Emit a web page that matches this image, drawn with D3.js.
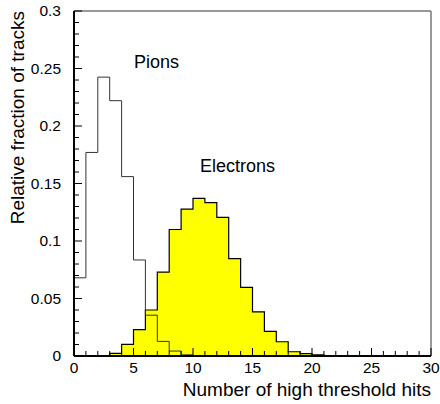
<!DOCTYPE html>
<html><head><meta charset="utf-8">
<script src="https://cdn.jsdelivr.net/npm/d3@7"></script>
<style>body{margin:0;background:#fff}svg{display:block}text{font-family:"Liberation Sans",Arial,sans-serif}</style>
</head><body>
<svg id="c" width="440" height="404"></svg>
<script>
const binStarts = d3.range(0, 30);
const pions = [0.068,0.177,0.2425,0.222,0.156,0.0835,0.0355,0.0127,0.0043,0.001,0,0,0,0,0,0,0,0,0,0,0,0,0,0,0,0,0,0,0,0];
const electrons = [0,0,0,0.0023,0.0101,0.023,0.040,0.073,0.110,0.1277,0.137,0.1333,0.1205,0.0847,0.0596,0.0384,0.0214,0.0124,0.0037,0.002,0.001,0,0,0,0,0,0,0,0,0];
const xTicks = [0,5,10,15,20,25,30];
const yTicks = [0,0.05,0.1,0.15,0.2,0.25,0.3];
const yTickLabels = ["0","0.05","0.1","0.15","0.2","0.25","0.3"];

const svg = d3.select("#c");
const x = d3.scaleLinear().domain([0,30]).range([74,431]);
const y = d3.scaleLinear().domain([0,0.3]).range([356,11]);

function stepPathTrim(vals){
  let last = vals.length-1; while(last>0 && vals[last]===0) last--;
  let first = 0; while(first<vals.length && vals[first]===0) first++;
  let p = [[x(first), y(0)]];
  for(let i=first;i<=last;i++){ p.push([x(i), y(vals[i])]); p.push([x(i+1), y(vals[i])]); }
  p.push([x(last+1), y(0)]);
  return d3.line()(p);
}

svg.append("path").attr("d", stepPathTrim(electrons)).attr("fill","#ffff00").attr("stroke","#000").attr("stroke-width",1.2);
svg.append("path").attr("d", stepPathTrim(pions)).attr("fill","none").attr("stroke","#333").attr("stroke-width",1);

// frame
svg.append("line").attr("x1",74).attr("x2",431).attr("y1",11).attr("y2",11).attr("stroke","#333").attr("stroke-width",1.2);
svg.append("line").attr("x1",431).attr("x2",431).attr("y1",11).attr("y2",356).attr("stroke","#777").attr("stroke-width",1.5);

// y axis with inward ticks
const yMinor = d3.range(0, 0.3001, 0.01);
const gy = svg.append("g").attr("transform","translate(74,0)");
gy.selectAll("line.t").data(yMinor).join("line")
  .attr("x1",0).attr("x2",(d,i)=> i%5===0 ? 8 : 5)
  .attr("y1",d=>y(d)).attr("y2",d=>y(d)).attr("stroke","#000").attr("stroke-width",1);
gy.append("line").attr("x1",0).attr("x2",0).attr("y1",y(0)).attr("y2",y(0.3)).attr("stroke","#000").attr("stroke-width",2);
gy.selectAll("text").data(yTicks).join("text")
  .attr("x",-13).attr("y",d=>y(d)).attr("dy","0.35em").attr("text-anchor","end")
  .attr("font-size",15.5).text((d,i)=>yTickLabels[i]);

// x axis
const xMinor = d3.range(0,31);
const gx = svg.append("g").attr("transform","translate(0,356)");
gx.selectAll("line.t").data(xMinor).join("line")
  .attr("x1",d=>x(d)).attr("x2",d=>x(d)).attr("y1",0).attr("y2",(d)=> d%5===0 ? -8 : -5)
  .attr("stroke","#000").attr("stroke-width",1);
gx.append("line").attr("x1",x(0)).attr("x2",x(30)).attr("y1",0).attr("y2",0).attr("stroke","#000").attr("stroke-width",2);
gx.selectAll("text").data(xTicks).join("text")
  .attr("x",d=>x(d)).attr("y",16.5).attr("text-anchor","middle")
  .attr("font-size",15.5).text(d=>d);

svg.append("text").attr("x",431).attr("y",396).attr("text-anchor","end").attr("font-size",19).text("Number of high threshold hits");
svg.append("text").attr("transform","translate(24,11) rotate(-90)").attr("text-anchor","end").attr("font-size",19).text("Relative fraction of tracks");
svg.append("text").attr("x",134).attr("y",68).attr("font-size",18).text("Pions");
svg.append("text").attr("x",200).attr("y",172).attr("font-size",18).text("Electrons");
</script>
</body></html>
